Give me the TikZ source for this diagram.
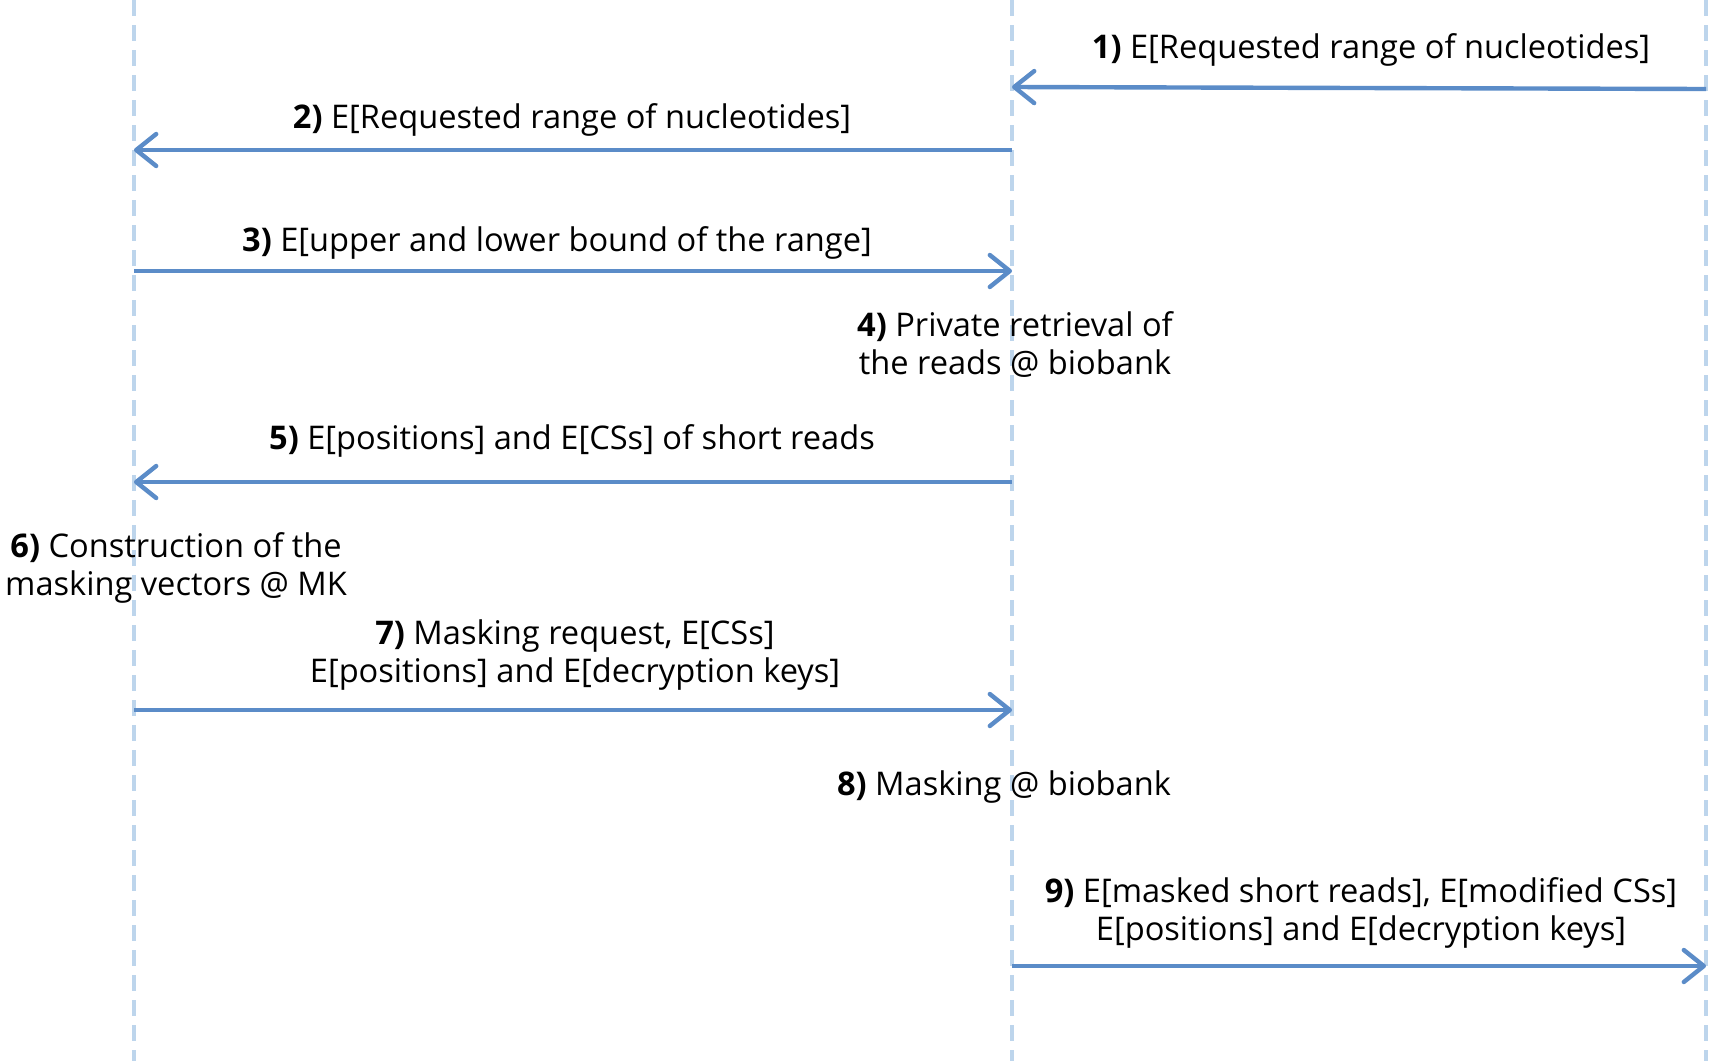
\documentclass[tikz,border=0pt]{standalone}
\usepackage{fontspec}
\setmainfont{Open Sans}
\usetikzlibrary{arrows.meta}
\definecolor{lifec}{HTML}{BDD5EC}
\definecolor{msgc}{HTML}{5B8CC8}
\tikzset{
  lifeline/.style={draw=lifec, line width=1.8pt, dash pattern=on 8pt off 4.5pt},
  msg/.style={draw=msgc, line width=2.2pt, -{Straight Barb[length=10pt,width=16pt,round]}},
  lbl/.style={font=\fontsize{16.3}{19}\selectfont, align=center, inner sep=0pt, text=black},
}
\begin{document}
\begin{tikzpicture}[x=0.5pt,y=-0.5pt]
\useasboundingbox[fill=white] (0,0) rectangle (1712,1061);
% lifelines
\coordinate (Lt) at (134,0);   \coordinate (Lb) at (134,1061);
\coordinate (Mt) at (1012,0);  \coordinate (Mb) at (1012,1061);
\coordinate (Rt) at (1706,0);  \coordinate (Rb) at (1706,1061);
\draw[lifeline] (Lt) -- (Lb);
\draw[lifeline] (Mt) -- (Mb);
\draw[lifeline] (Rt) -- (Rb);
% message end points
\coordinate (r1) at (1706,89); \coordinate (m1) at (1012,87);
\coordinate (m2) at (1012,150); \coordinate (l2) at (134,150);
\coordinate (l3) at (134,271); \coordinate (m3) at (1012,271);
\coordinate (m5) at (1012,482); \coordinate (l5) at (134,482);
\coordinate (l7) at (134,710); \coordinate (m7) at (1012,710);
\coordinate (m9) at (1012,966); \coordinate (r9) at (1706,966);
\draw[msg] (r1) -- (m1);
\draw[msg] (m2) -- (l2);
\draw[msg] (l3) -- (m3);
\draw[msg] (m5) -- (l5);
\draw[msg] (l7) -- (m7);
\draw[msg] (m9) -- (r9);
% labels
\node[lbl] (t1) at (1371,50) {\textbf{1)} E[Requested range of nucleotides]};
\node[lbl] (t2) at (572,120) {\textbf{2)} E[Requested range of nucleotides]};
\node[lbl] (t3) at (557,243) {\textbf{3)} E[upper and lower bound of the range]};
\node[lbl] (t4) at (1015,344) {\textbf{4)} Private retrieval of\\the reads @ biobank};
\node[lbl] (t5) at (572,441) {\textbf{5)} E[positions] and E[CSs] of short reads};
\node[lbl] (t6) at (176,568) {\textbf{6)} Construction of the\\masking vectors @ MK};
\node[lbl] (t7) at (575,655) {\textbf{7)} Masking request, E[CSs]\\E[positions] and E[decryption keys]};
\node[lbl] (t8) at (1004,787) {\textbf{8)} Masking @ biobank};
\node[lbl] (t9) at (1361,913) {\textbf{9)} E[masked short reads], E[modified CSs]\\E[positions] and E[decryption keys]};
\end{tikzpicture}
\end{document}
